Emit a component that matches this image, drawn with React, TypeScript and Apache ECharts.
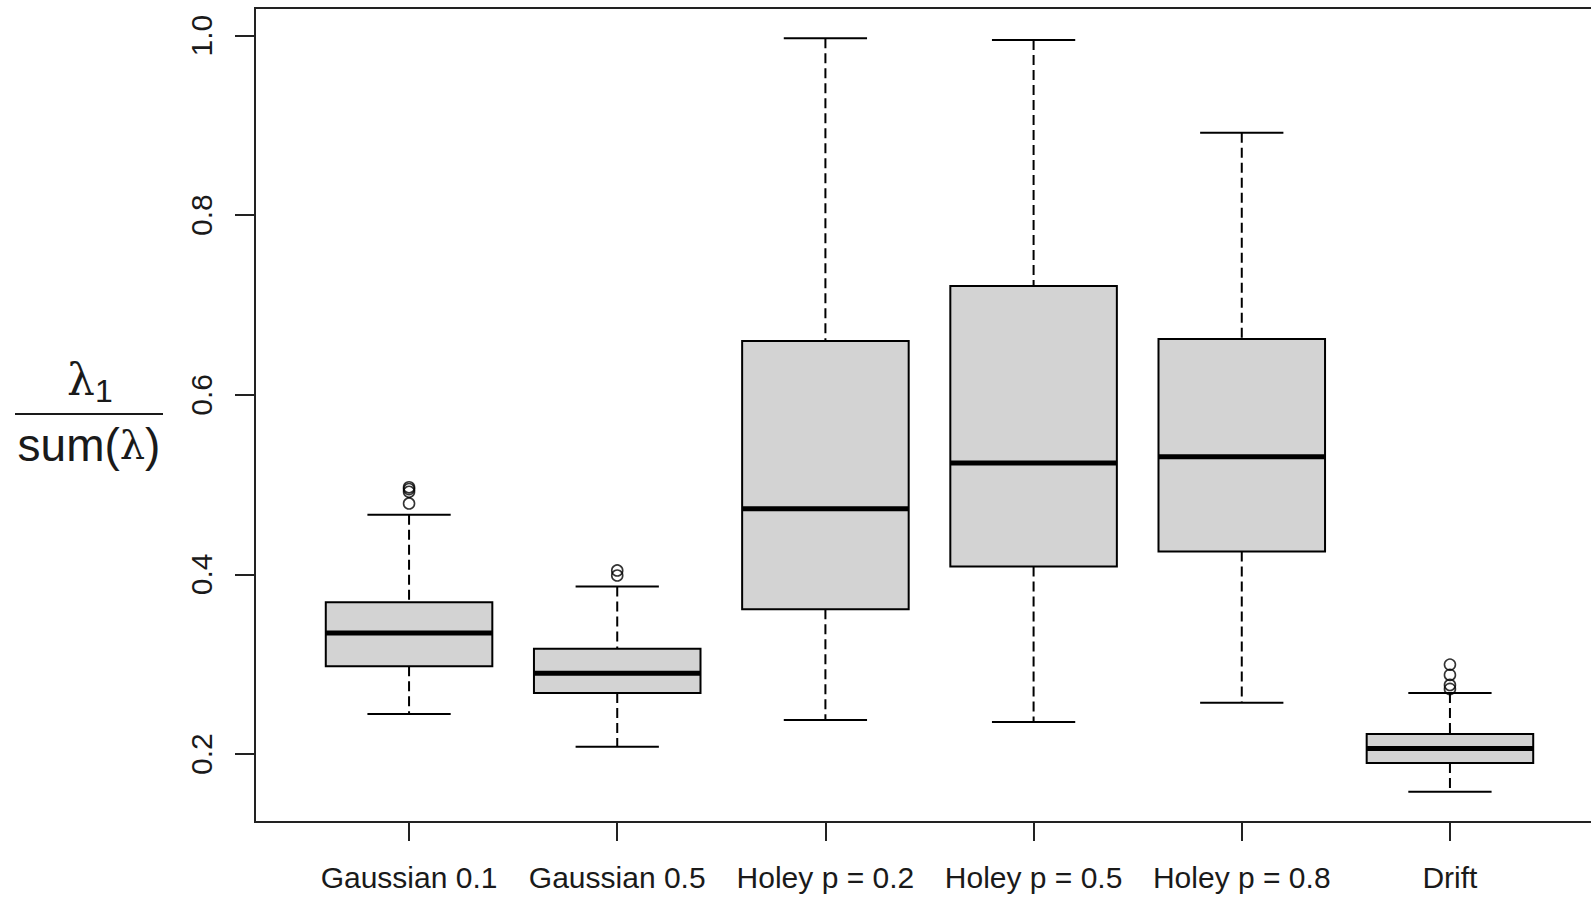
import React, { useEffect, useRef } from "react";
import * as echarts from "echarts";

// Groups along the x axis
const categories = [
  "Gaussian 0.1",
  "Gaussian 0.5",
  "Holey p = 0.2",
  "Holey p = 0.5",
  "Holey p = 0.8",
  "Drift",
];

// Five-number summaries per group
const lowerWhisker = [0.2446, 0.2081, 0.2378, 0.2356, 0.257, 0.1579];
const q1 = [0.2977, 0.268, 0.3611, 0.4087, 0.4256, 0.19];
const median = [0.3349, 0.2899, 0.4732, 0.5241, 0.5309, 0.2062];
const q3 = [0.3691, 0.3171, 0.6599, 0.7211, 0.6622, 0.2223];
const upperWhisker = [0.4665, 0.3866, 0.9971, 0.9949, 0.8919, 0.268];

// Points beyond the whiskers, per group
const outliers = [
  [0.497, 0.495, 0.492, 0.479],
  [0.4044, 0.3988],
  [],
  [],
  [],
  [0.2996, 0.2881, 0.2769, 0.2725],
];

const yTicks = [0.2, 0.4, 0.6, 0.8, 1.0];
const xTicks = [1, 2, 3, 4, 5, 6];

const FONT = "'Liberation Sans', Arial, sans-serif";
const SYM = "'DejaVu Serif', 'Liberation Serif', serif";
const INK = "#1a1a1a";

export default function App() {
  const ref = useRef<HTMLDivElement>(null);

  useEffect(() => {
    if (!ref.current) return;
    const chart = echarts.init(ref.current, undefined, { renderer: "svg" });

    // Axis extents padded by 4% of the data range on each side
    const allVals = [...lowerWhisker, ...upperWhisker, ...outliers.flat()];
    const lo = Math.min(...allVals);
    const hi = Math.max(...allVals);
    const pad = (hi - lo) * 0.04;
    const yMin = lo - pad;
    const yMax = hi + pad;
    const xPad = categories.length * 0.04;
    const xMin = 0.5 - xPad;
    const xMax = categories.length + 0.5 + xPad;

    const boxData = categories.map((_, i) => [
      i + 1,
      lowerWhisker[i],
      q1[i],
      median[i],
      q3[i],
      upperWhisker[i],
    ]);

    const outlierData: number[][] = [];
    outliers.forEach((vals, i) => vals.forEach((v) => outlierData.push([i + 1, v])));

    const halfBox = 0.4;
    const halfCap = 0.2;

    const option: any = {
      animation: false,
      backgroundColor: "#ffffff",
      grid: {
        left: 255,
        top: 8,
        width: 1349,
        height: 814,
        outerBoundsMode: "none",
        containLabel: false,
        show: true,
        borderColor: "#222",
        borderWidth: 2,
        backgroundColor: "transparent",
      },
      xAxis: {
        type: "value",
        min: xMin,
        max: xMax,
        axisLine: { show: false },
        splitLine: { show: false },
        axisTick: {
          show: true,
          length: 19,
          customValues: xTicks,
          lineStyle: { color: "#222", width: 2 },
        },
        axisLabel: {
          customValues: xTicks,
          formatter: (v: number) => categories[Math.round(v) - 1] ?? "",
          fontFamily: FONT,
          fontSize: 30,
          color: INK,
          margin: 40,
        },
      },
      yAxis: {
        type: "value",
        min: yMin,
        max: yMax,
        axisLine: { show: false },
        splitLine: { show: false },
        axisTick: {
          show: true,
          length: 20,
          customValues: yTicks,
          lineStyle: { color: "#222", width: 2 },
        },
        axisLabel: {
          customValues: yTicks,
          formatter: (v: number) => v.toFixed(1),
          rotate: 90,
          fontFamily: FONT,
          fontSize: 30,
          color: INK,
          margin: 39,
        },
      },
      series: [
        {
          type: "custom",
          data: boxData,
          encode: { x: 0, y: [1, 2, 3, 4, 5] },
          renderItem: (params: any, api: any) => {
            const x = api.value(0);
            const lw = api.value(1);
            const b1 = api.value(2);
            const md = api.value(3);
            const b3 = api.value(4);
            const uw = api.value(5);
            const c = (xx: number, yy: number) => api.coord([xx, yy]);
            const pLw = c(x, lw);
            const pUw = c(x, uw);
            const pQ1 = c(x, b1);
            const pQ3 = c(x, b3);
            const boxL = c(x - halfBox, b3);
            const boxR = c(x + halfBox, b1);
            const capL = c(x - halfCap, uw)[0];
            const capR = c(x + halfCap, uw)[0];
            const medL = c(x - halfBox, md);
            const medR = c(x + halfBox, md);
            const dashed = { stroke: "#000", lineWidth: 2, lineDash: [10, 5] };
            const solid = { stroke: "#000", lineWidth: 2 };
            return {
              type: "group",
              children: [
                {
                  type: "line",
                  shape: { x1: pUw[0], y1: pUw[1], x2: pQ3[0], y2: pQ3[1] },
                  style: dashed,
                },
                {
                  type: "line",
                  shape: { x1: pQ1[0], y1: pQ1[1], x2: pLw[0], y2: pLw[1] },
                  style: dashed,
                },
                {
                  type: "line",
                  shape: { x1: capL, y1: pUw[1], x2: capR, y2: pUw[1] },
                  style: solid,
                },
                {
                  type: "line",
                  shape: { x1: capL, y1: pLw[1], x2: capR, y2: pLw[1] },
                  style: solid,
                },
                {
                  type: "rect",
                  shape: {
                    x: boxL[0],
                    y: boxL[1],
                    width: boxR[0] - boxL[0],
                    height: boxR[1] - boxL[1],
                  },
                  style: { fill: "#d3d3d3", stroke: "#000", lineWidth: 2 },
                },
                {
                  type: "line",
                  shape: { x1: medL[0], y1: medL[1], x2: medR[0], y2: medR[1] },
                  style: { stroke: "#000", lineWidth: 5 },
                },
              ],
            };
          },
        },
        {
          type: "scatter",
          data: outlierData,
          symbol: "circle",
          symbolSize: 11,
          itemStyle: {
            color: "rgba(255,255,255,0)",
            borderColor: "#000",
            borderWidth: 1.6,
          },
        },
      ],
      graphic: [
        {
          type: "text",
          x: 95,
          y: 379,
          style: {
            text: "λ",
            font: `44px ${SYM}`,
            fill: INK,
            textAlign: "right",
            textVerticalAlign: "middle",
          },
        },
        {
          type: "text",
          x: 95,
          y: 391,
          style: {
            text: "1",
            font: `32px ${FONT}`,
            fill: INK,
            textAlign: "left",
            textVerticalAlign: "middle",
          },
        },
        {
          type: "line",
          shape: { x1: 15, y1: 414, x2: 163, y2: 414 },
          style: { stroke: INK, lineWidth: 2 },
        },
        {
          type: "text",
          x: 89,
          y: 445,
          style: {
            text: "{a|sum(}{b|λ}{a|)}",
            fill: INK,
            textAlign: "center",
            textVerticalAlign: "middle",
            rich: {
              a: { fontFamily: "Liberation Sans", fontSize: 46, fill: INK },
              b: { fontFamily: "DejaVu Serif", fontSize: 40, fill: INK },
            },
          },
        },
      ],
    };

    chart.setOption(option);
    return () => chart.dispose();
  }, []);

  return (
    <div
      ref={ref}
      style={{ position: "fixed", left: 0, top: 0, width: 1591, height: 897 }}
    />
  );
}
